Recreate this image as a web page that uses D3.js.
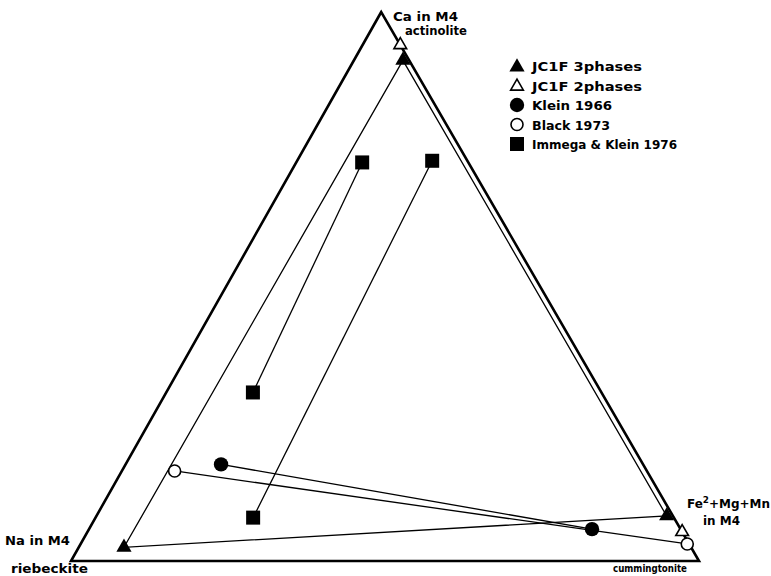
<!DOCTYPE html>
<html><head><meta charset="utf-8">
<script src="https://cdn.jsdelivr.net/npm/d3@7"></script>
<style>body{margin:0;background:#fff}svg{display:block}text{font-family:"DejaVu Sans",sans-serif;font-weight:bold;fill:#000}</style>
</head><body>
<script>
// Data: each point is [Ca, Na, Fe2+Mg+Mn] fractions in M4
const vertexNames = ["Ca in M4", "Na in M4", "Fe2+Mg+Mn in M4"];
const endMembers = ["actinolite", "riebeckite", "cummingtonite"];
const jc1f3phases = [[0.912, 0.010, 0.078], [0.025, 0.903, 0.072], [0.082, 0.010, 0.908]];
const jc1f2phases = [[0.940, 0.0, 0.060], [0.053, 0.0, 0.947]];
const klein1966 = [[0.176, 0.672, 0.152], [0.058, 0.141, 0.801]];
const black1973 = [[0.164, 0.752, 0.084], [0.031, 0.003, 0.966]];
const immegaKlein1976 = [
  [[0.726, 0.169, 0.105], [0.307, 0.555, 0.138]],
  [[0.729, 0.056, 0.215], [0.079, 0.670, 0.251]]
];
const legendLabels = ["JC1F 3phases", "JC1F 2phases", "Klein 1966", "Black 1973", "Immega & Klein 1976"];

const W = 771, H = 576;
const svg = d3.select("body").append("svg").attr("width", W).attr("height", H);

const apexShift = 0.494;
const xScale = d3.scaleLinear().domain([0, 1]).range([71, 699]);
const yScale = d3.scaleLinear().domain([0, 1]).range([561, 12]);
const proj = p => [xScale(p[2] + apexShift * p[0]), yScale(p[0])];

// triangle frame
const corners = [[1, 0, 0], [0, 1, 0], [0, 0, 1]].map(proj);
svg.append("path").attr("d", d3.line()(corners) + "Z")
  .attr("fill", "none").attr("stroke", "#000").attr("stroke-width", 2.6).attr("stroke-linejoin", "miter");

const line = d3.line();
const tie = (pts, closed) => svg.append("path")
  .attr("d", line(pts.map(proj)) + (closed ? "Z" : ""))
  .attr("fill", "none").attr("stroke", "#000").attr("stroke-width", 1.3);

tie(jc1f3phases, true);
tie(klein1966);
tie(black1973);
immegaKlein1976.forEach(pair => tie(pair));

const triSym = d3.symbol().type(d3.symbolTriangle);
function marker(g, kind, x, y) {
  if (kind === "tri") g.append("path").attr("d", triSym.size(100)()).attr("transform", `translate(${x},${y})`).attr("fill", "#000");
  if (kind === "otri") g.append("path").attr("d", triSym.size(70)()).attr("transform", `translate(${x},${y})`).attr("fill", "#fff").attr("stroke", "#000").attr("stroke-width", 1.6);
  if (kind === "dot") g.append("circle").attr("cx", x).attr("cy", y).attr("r", 7.2).attr("fill", "#000");
  if (kind === "odot") g.append("circle").attr("cx", x).attr("cy", y).attr("r", 6).attr("fill", "#fff").attr("stroke", "#000").attr("stroke-width", 1.6);
  if (kind === "sq") g.append("rect").attr("x", x - 7).attr("y", y - 7).attr("width", 14).attr("height", 14).attr("fill", "#000");
}
const mk = svg.append("g");
jc1f3phases.forEach(p => { const [x, y] = proj(p); marker(mk, "tri", x, y); });
jc1f2phases.forEach(p => { const [x, y] = proj(p); marker(mk, "otri", x, y); });
klein1966.forEach(p => { const [x, y] = proj(p); marker(mk, "dot", x, y); });
black1973.forEach(p => { const [x, y] = proj(p); marker(mk, "odot", x, y); });
immegaKlein1976.flat().forEach(p => { const [x, y] = proj(p); marker(mk, "sq", x, y); });

// vertex labels (widths matched to the reference lettering)
const lab = (t, x, y, w, fs = 11.5) => svg.append("text").attr("x", x).attr("y", y).attr("font-size", fs)
  .attr("textLength", w).attr("lengthAdjust", "spacingAndGlyphs").text(t);
lab(vertexNames[0], 393, 21, 65);
lab(endMembers[0], 405, 35, 62);
lab(vertexNames[1], 5, 545, 65);
lab(endMembers[1], 11, 573, 77);
const fe = svg.append("text").attr("x", 687).attr("y", 508).attr("font-size", 11.5)
  .attr("textLength", 83).attr("lengthAdjust", "spacingAndGlyphs");
fe.append("tspan").text("Fe");
fe.append("tspan").attr("dy", -5).attr("font-size", 8.5).text("2");
fe.append("tspan").attr("dy", 5).text("+Mg+Mn");
lab("in M4", 703, 525, 37);
lab(endMembers[2], 613, 572, 74, 11);

// legend
const kinds = ["tri", "otri", "dot", "odot", "sq"];
const widths = [110, 110, 80, 78, 145];
const rowY = d3.scalePoint().domain(legendLabels).range([66, 144]);
const lg = svg.append("g");
legendLabels.forEach((t, i) => {
  const y = rowY(t);
  marker(lg, kinds[i], 517, y + (kinds[i].includes("tri") ? 1 : 0));
  lg.append("text").attr("x", 532).attr("y", y + 5).attr("font-size", 11.5)
    .attr("textLength", widths[i]).attr("lengthAdjust", "spacingAndGlyphs").text(t);
});
</script>
</body></html>
